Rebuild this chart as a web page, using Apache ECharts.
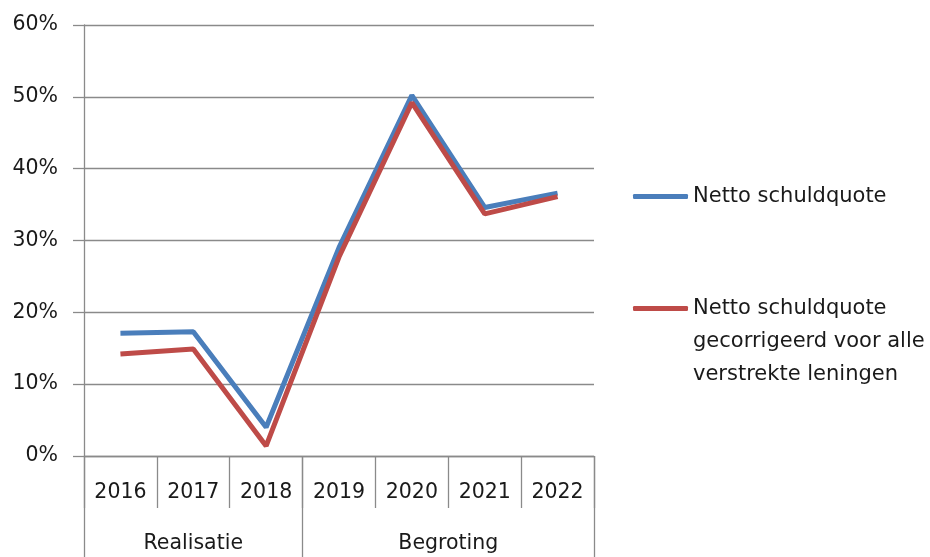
<!DOCTYPE html>
<html>
<head>
<meta charset="utf-8">
<script src="https://cdn.jsdelivr.net/npm/echarts@6/dist/echarts.min.js"></script>
<style>html,body{margin:0;padding:0;background:#fff}#c{width:930px;height:557px}</style>
</head>
<body>
<div id="c"></div>
<script>
var years = ['2016','2017','2018','2019','2020','2021','2022'];
var groupNames = ['Realisatie','Begroting'];
var groupCounts = [3, 4];
var seriesNames = ['Netto schuldquote', 'Netto schuldquote gecorrigeerd voor alle verstrekte leningen'];
var legendLines2 = ['Netto schuldquote', 'gecorrigeerd voor alle', 'verstrekte leningen'];
var blueValues = [17.1, 17.3, 4.0, 29.0, 50.2, 34.6, 36.6];
var redValues = [14.2, 14.9, 1.4, 27.7, 49.2, 33.7, 36.1];
var yTicks = [0, 10, 20, 30, 40, 50, 60];

var bounds = [0];
var centers = [];
for (var i = 0; i < groupCounts.length; i++) {
  var start = bounds[bounds.length - 1];
  centers.push(start + groupCounts[i] / 2);
  bounds.push(start + groupCounts[i]);
}

var FONT = 'DejaVu Sans';
var FS = 20.5;
var LFS = 21;
var TXT = '#1a1a1a';
var GRID = '#8a8a8a';

var chart = echarts.init(document.getElementById('c'));
chart.setOption({
  animation: false,
  grid: { left: 84, right: 336, top: 25, bottom: 101, containLabel: false },
  xAxis: [
    {
      type: 'category', data: years, boundaryGap: true,
      axisLine: { show: true, lineStyle: { color: GRID, width: 1.3 } },
      axisTick: { show: true, interval: 0, length: 52, lineStyle: { color: GRID, width: 1.3 } },
      axisLabel: { interval: 0, margin: 26, fontFamily: FONT, fontSize: FS, color: TXT }
    },
    {
      type: 'value', min: 0, max: bounds[bounds.length - 1], position: 'bottom',
      axisLine: { show: false },
      splitLine: { show: false },
      axisTick: { show: true, length: 101, customValues: bounds, lineStyle: { color: GRID, width: 1.3 } },
      axisLabel: {
        margin: 77, fontFamily: FONT, fontSize: FS, color: TXT,
        customValues: centers,
        formatter: function (v) { var k = centers.indexOf(v); return k >= 0 ? groupNames[k] : ''; }
      }
    }
  ],
  yAxis: {
    type: 'value', min: yTicks[0], max: yTicks[yTicks.length - 1], interval: 10,
    axisLine: { show: true, lineStyle: { color: GRID, width: 1.3 } },
    axisTick: { show: true, length: 11, lineStyle: { color: GRID, width: 1.3 } },
    splitLine: { show: true, lineStyle: { color: GRID, width: 1.3 } },
    axisLabel: { formatter: '{value}%', margin: 26, fontFamily: FONT, fontSize: FS, color: TXT }
  },
  legend: [
    {
      data: [seriesNames[0]], orient: 'vertical', left: 633, top: 180, padding: 0,
      icon: 'roundRect', itemWidth: 55, itemHeight: 5,
      textStyle: { fontFamily: FONT, fontSize: LFS, color: TXT, lineHeight: 33 }
    },
    {
      data: [seriesNames[1]], orient: 'vertical', left: 633, top: 226, padding: 0,
      icon: 'roundRect', itemWidth: 55, itemHeight: 5,
      formatter: function () { return '\n\n' + legendLines2.join('\n'); },
      textStyle: { fontFamily: FONT, fontSize: LFS, color: TXT, lineHeight: 33 }
    }
  ],
  series: [
    {
      name: seriesNames[0], type: 'line', data: blueValues, xAxisIndex: 0,
      showSymbol: false, symbol: 'none', color: '#4A7EBB',
      lineStyle: { width: 5, color: '#4A7EBB' }
    },
    {
      name: seriesNames[1], type: 'line', data: redValues, xAxisIndex: 0,
      showSymbol: false, symbol: 'none', color: '#BE4B48',
      lineStyle: { width: 5, color: '#BE4B48' }
    }
  ]
});
</script>
</body>
</html>
